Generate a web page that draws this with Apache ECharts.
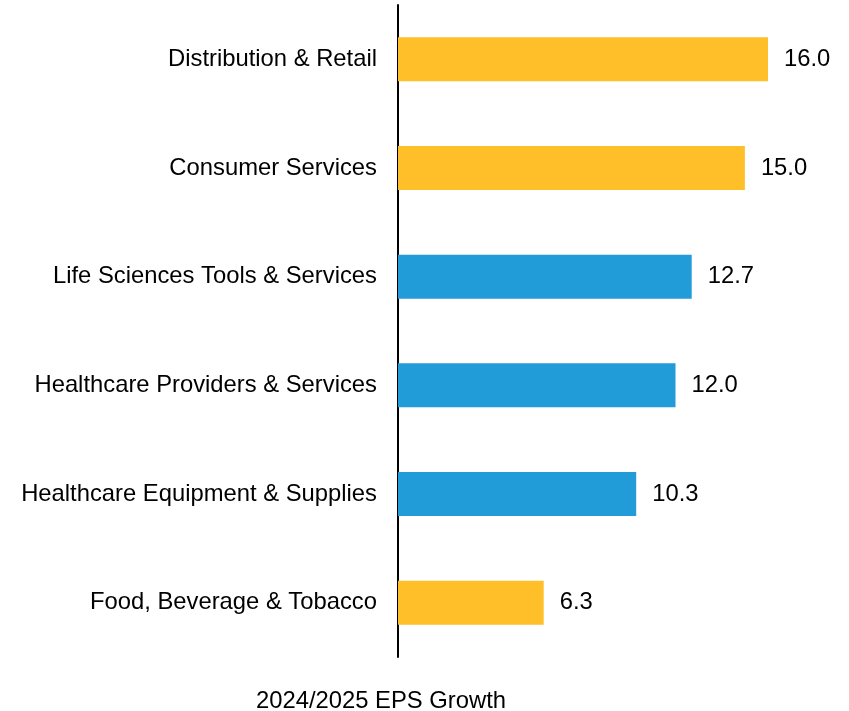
<!DOCTYPE html>
<html><head><meta charset="utf-8">
<script src="https://cdn.jsdelivr.net/npm/echarts@6/dist/echarts.min.js"></script>
<style>html,body{margin:0;padding:0;background:#fff}#c{width:849px;height:711px}</style>
</head><body><div id="c"></div>
<script>
const categories = ["Food, Beverage & Tobacco","Healthcare Equipment & Supplies","Healthcare Providers & Services","Life Sciences Tools & Services","Consumer Services","Distribution & Retail"];
const values = [6.3, 10.3, 12.0, 12.7, 15.0, 16.0];
const colorGroup = ["orange","blue","blue","blue","orange","orange"];
const axisTitle = "2024/2025 EPS Growth";
const palette = {orange:"#FEBF29", blue:"#219CD8"};
const font = "'Liberation Sans', Arial, sans-serif";
const fs = 23.8;
const chart = echarts.init(document.getElementById('c'));
chart.setOption({
  animation:false,
  grid:{left:398, top:5, bottom:54, width:416.25, containLabel:false},
  xAxis:{type:'value', min:0, max:18, show:false},
  yAxis:{type:'category', data:categories,
    axisLine:{show:true, lineStyle:{color:'#000', width:2}},
    axisTick:{show:false},
    axisLabel:{color:'#000', fontSize:fs, fontFamily:font, margin:21, padding:[2,0,0,0]}},
  graphic:[{type:'text', left:256, top:689, style:{text:axisTitle, fill:'#000', font:fs+"px 'Liberation Sans', Arial, sans-serif"}}],
  series:[{type:'bar', barWidth:44,
    data: values.map((v,i)=>({value:v, itemStyle:{color:palette[colorGroup[i]]}})),
    label:{show:true, position:'right', distance:16, color:'#000', fontSize:fs, fontFamily:font, padding:[2,0,0,0],
      formatter:p=>p.value.toFixed(1)}}]
});
</script></body></html>
